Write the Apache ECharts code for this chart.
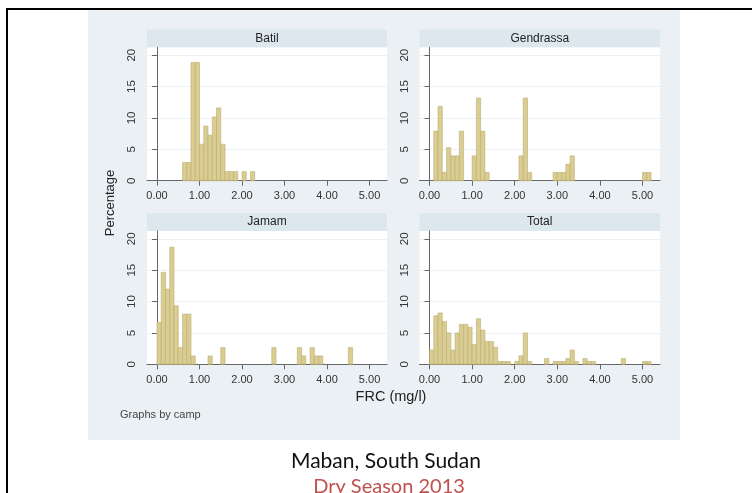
<!DOCTYPE html>
<html>
<head>
<meta charset="utf-8">
<title>FRC by camp</title>
<script src="https://cdn.jsdelivr.net/npm/echarts@6/dist/echarts.min.js"></script>
<style>
  html, body { margin: 0; padding: 0; background: #fff; }
  #chart { width: 752px; height: 493px; }
</style>
</head>
<body>
<div id="chart"></div>
<script>
// histogram bins (left edge, mg/l), bin width 0.1, values in percent
var binWidth = 0.1
var panelNames = ['Batil', 'Gendrassa', 'Jamam', 'Total']

var batilBins = [0.6, 0.7, 0.8, 0.9, 1.0, 1.1, 1.2, 1.3, 1.4, 1.5, 1.6, 1.7, 1.8, 2.0, 2.2]
var batilPct  = [2.90, 2.90, 18.84, 18.84, 5.80, 8.70, 7.25, 10.14, 11.59, 5.80, 1.45, 1.45, 1.45, 1.45, 1.45]

var gendrassaBins = [0.1, 0.2, 0.3, 0.4, 0.5, 0.6, 0.7, 1.0, 1.1, 1.2, 1.3, 2.1, 2.2, 2.3, 2.9, 3.0, 3.1, 3.2, 3.3, 5.0, 5.1]
var gendrassaPct  = [7.89, 11.84, 1.32, 5.26, 3.95, 3.95, 7.89, 3.95, 13.16, 7.89, 1.32, 3.95, 13.16, 1.32, 1.32, 1.32, 1.32, 2.63, 3.95, 1.32, 1.32]

var jamamBins = [0.0, 0.1, 0.2, 0.3, 0.4, 0.5, 0.6, 0.7, 0.8, 1.2, 1.5, 2.7, 3.3, 3.4, 3.6, 3.7, 3.8, 4.5]
var jamamPct  = [6.67, 14.67, 12.00, 18.67, 9.33, 2.67, 8.00, 8.00, 1.33, 1.33, 2.67, 2.67, 2.67, 1.33, 2.67, 1.33, 1.33, 2.67]

var totalBins = [0.0, 0.1, 0.2, 0.3, 0.4, 0.5, 0.6, 0.7, 0.8, 0.9, 1.0, 1.1, 1.2, 1.3, 1.4, 1.5, 1.6, 1.7, 1.8,
                 2.0, 2.1, 2.2, 2.3, 2.7, 2.9, 3.0, 3.1, 3.2, 3.3, 3.4, 3.6, 3.7, 3.8, 4.5, 5.0, 5.1]
var totalPct  = [2.27, 7.73, 8.18, 6.82, 5.00, 2.27, 5.00, 6.36, 6.36, 5.91, 3.18, 7.27, 5.45, 3.64, 3.64, 2.73, 0.45, 0.45, 0.45,
                 0.45, 1.36, 5.00, 0.45, 0.91, 0.45, 0.45, 0.45, 0.91, 2.27, 0.45, 0.91, 0.45, 0.45, 0.91, 0.45, 0.45]

var xTicks = [0, 1, 2, 3, 4, 5]
var yTicks = [0, 5, 10, 15, 20]

var allBins = [batilBins, gendrassaBins, jamamBins, totalBins]
var allPct = [batilPct, gendrassaPct, jamamPct, totalPct]

// panel boxes (plot area only)
var panels = [
  { left: 147, top: 47.3, width: 240, height: 133.4 },
  { left: 419.5, top: 47.3, width: 240.5, height: 133.4 },
  { left: 147, top: 231, width: 240, height: 133.3 },
  { left: 419.5, top: 231, width: 240.5, height: 133.3 }
]
var stripH = 18

var FONT = '"Liberation Sans", Arial, sans-serif'
var barFill = '#d9cd92'
var barEdge = '#bcad70'

function renderBar (params, api) {
  var p0 = api.coord([api.value(0), api.value(2)])
  var p1 = api.coord([api.value(1), 0])
  return {
    type: 'rect',
    shape: { x: p0[0], y: p0[1], width: p1[0] - p0[0], height: p1[1] - p0[1] },
    style: { fill: barFill, stroke: barEdge, lineWidth: 0.6 }
  }
}

var grids = [], xAxes = [], yAxes = [], series = []
var graphics = [
  // grey backdrop of the stata graph
  { type: 'rect', shape: { x: 88, y: 10, width: 592, height: 430 }, style: { fill: '#eaf0f3' }, z: -10 },
  // slide frame
  { type: 'line', shape: { x1: 6, y1: 9, x2: 752, y2: 9 }, style: { stroke: '#000', lineWidth: 2 } },
  { type: 'line', shape: { x1: 7, y1: 8, x2: 7, y2: 493 }, style: { stroke: '#000', lineWidth: 2 } }
]

panels.forEach(function (p, i) {
  grids.push({ left: p.left, top: p.top, width: p.width, height: p.height, show: true, backgroundColor: '#fff', borderWidth: 0 })
  xAxes.push({
    type: 'value', gridIndex: i, min: -0.235, max: 5.41,
    axisLine: { show: true, lineStyle: { color: '#666', width: 1 } },
    axisTick: { show: true, customValues: xTicks, length: 5, lineStyle: { color: '#666' } },
    axisLabel: { customValues: xTicks, color: '#333', fontFamily: FONT, fontSize: 11, margin: 10,
      formatter: function (v) { return v.toFixed(2) } },
    splitLine: { show: false }
  })
  yAxes.push({
    type: 'value', gridIndex: i, min: 0, max: 21.25, interval: 5,
    axisLine: { show: true, lineStyle: { color: '#666', width: 1 } },
    axisTick: { show: true, customValues: yTicks, length: 5, lineStyle: { color: '#666' } },
    axisLabel: { customValues: yTicks, color: '#333', fontFamily: FONT, fontSize: 11.5, rotate: 90, margin: 9 },
    splitLine: { show: true, lineStyle: { color: '#eef1f3', width: 1 } }
  })
  var data = allBins[i].map(function (b, k) { return [b, b + binWidth, allPct[i][k]] })
  series.push({
    type: 'custom', xAxisIndex: i, yAxisIndex: i,
    renderItem: renderBar, encode: { x: [0, 1], y: 2 }, data: data, silent: true
  })
  // panel title strip
  graphics.push({ type: 'rect', shape: { x: p.left, y: p.top - stripH, width: p.width, height: stripH }, style: { fill: '#dce8ee' } })
  graphics.push({ type: 'text', x: p.left + p.width / 2, y: p.top - stripH / 2,
    style: { text: panelNames[i], font: '12px ' + FONT, fill: '#222', align: 'center', verticalAlign: 'middle' } })
})

graphics.push({ type: 'text', x: 110, y: 203, rotation: Math.PI / 2,
  style: { text: 'Percentage', font: '13px ' + FONT, fill: '#222', align: 'center', verticalAlign: 'middle' } })
graphics.push({ type: 'text', x: 391, y: 397,
  style: { text: 'FRC (mg/l)', font: '14.5px ' + FONT, fill: '#222', align: 'center', verticalAlign: 'middle' } })
graphics.push({ type: 'text', x: 120, y: 415,
  style: { text: 'Graphs by camp', font: '11px ' + FONT, fill: '#444', align: 'left', verticalAlign: 'middle' } })
graphics.push({ type: 'text', x: 386, y: 461,
  style: { text: 'Maban, South Sudan', font: '21px Lato, "Open Sans", sans-serif', fill: '#111', align: 'center', verticalAlign: 'middle' } })
graphics.push({ type: 'text', x: 389, y: 487,
  style: { text: 'Dry Season 2013', font: '20px Lato, "Open Sans", sans-serif', fill: '#c0504d', align: 'center', verticalAlign: 'middle' } })

var myChart = echarts.init(document.getElementById('chart'))
myChart.setOption({
  animation: false,
  grid: grids,
  xAxis: xAxes,
  yAxis: yAxes,
  series: series,
  graphic: graphics
})
</script>
</body>
</html>
